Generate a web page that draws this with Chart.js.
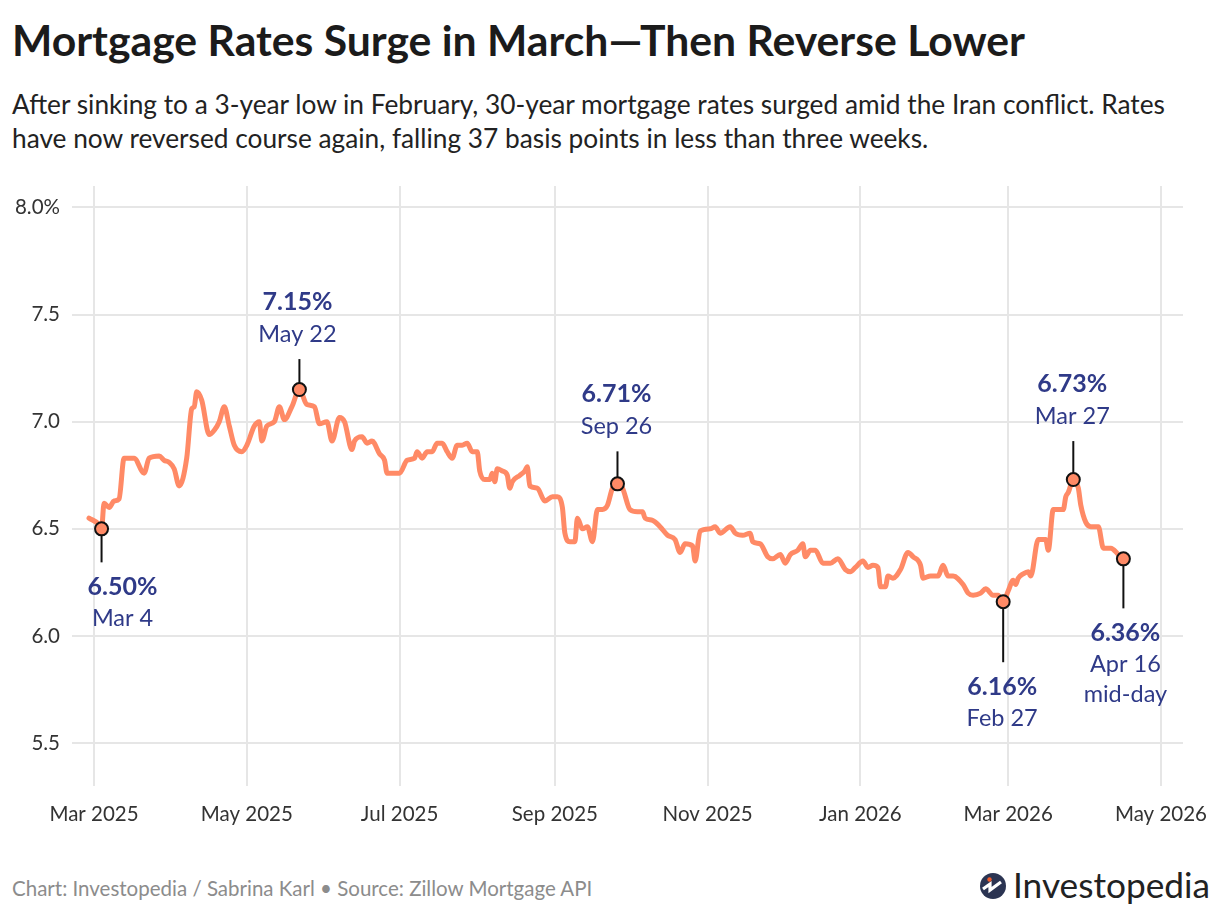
<!DOCTYPE html>
<html><head><meta charset="utf-8">
<script src="https://cdn.jsdelivr.net/npm/chart.js@4.4.1/dist/chart.umd.min.js"></script>
<style>
html,body{margin:0;padding:0;background:#fff}
body{width:1220px;height:914px;overflow:hidden;position:relative;font-family:'Lato','Noto Sans',sans-serif}
.t{position:absolute;white-space:nowrap;line-height:1}
#title{left:12px;top:19px;font-weight:700;font-size:38px;color:#1b1b1b}
#sub1,#sub2{left:12px;font-size:23px;color:#222}
#sub1{top:91px}
#sub2{top:125px}
#foot{left:12px;top:878px;font-size:18px;color:#8c8c8c}
#logotxt{left:1013px;top:867px;font-size:35px;color:#222}
#icon{position:absolute;left:979px;top:872px}
#wrap{position:absolute;left:0;top:170px;width:1220px;height:670px}
</style></head>
<body>
<div id="title" class="t">Mortgage Rates Surge in March—Then Reverse Lower</div>
<div id="sub1" class="t">After sinking to a 3-year low in February, 30-year mortgage rates surged amid the Iran conflict. Rates</div>
<div id="sub2" class="t">have now reversed course again, falling 37 basis points in less than three weeks.</div>
<div id="wrap"><canvas id="c"></canvas></div>
<div id="foot" class="t">Chart: Investopedia / Sabrina Karl • Source: Zillow Mortgage API</div>
<svg id="icon" width="28" height="28" viewBox="0 0 28 28">
  <circle cx="14" cy="14" r="13" fill="#2b3452"/>
  <path d="M4 17 L11 12 L11 18 L22 10" stroke="#fff" stroke-width="3.2" fill="none" stroke-linejoin="miter"/>
  <circle cx="10.5" cy="7.5" r="2.2" fill="#f25c2a"/>
</svg>
<div id="logotxt" class="t">Investopedia</div>
<script>
// ---- data ----
const dates = [
"2025-02-27","2025-03-03","2025-03-04","2025-03-05","2025-03-07","2025-03-09","2025-03-11","2025-03-13","2025-03-17","2025-03-21",
"2025-03-23","2025-03-27","2025-03-29","2025-03-31","2025-04-02","2025-04-04","2025-04-07","2025-04-09","2025-04-10","2025-04-11",
"2025-04-13","2025-04-16","2025-04-18","2025-04-20","2025-04-22","2025-04-24","2025-04-26","2025-04-29","2025-05-01","2025-05-04",
"2025-05-06","2025-05-07","2025-05-09","2025-05-12","2025-05-14","2025-05-16","2025-05-19","2025-05-22","2025-05-25","2025-05-28",
"2025-05-30","2025-06-02","2025-06-04","2025-06-07","2025-06-09","2025-06-12","2025-06-13","2025-06-16","2025-06-18","2025-06-20",
"2025-06-23","2025-06-25","2025-06-26","2025-07-01","2025-07-04","2025-07-07","2025-07-08","2025-07-10","2025-07-12","2025-07-14",
"2025-07-16","2025-07-18","2025-07-20","2025-07-22","2025-07-24","2025-07-26","2025-07-28","2025-07-30","2025-08-01","2025-08-02",
"2025-08-04","2025-08-06","2025-08-07","2025-08-08","2025-08-09","2025-08-11","2025-08-13","2025-08-14","2025-08-15","2025-08-18",
"2025-08-20","2025-08-21","2025-08-22","2025-08-25","2025-08-28","2025-08-31","2025-09-02","2025-09-04","2025-09-05","2025-09-07",
"2025-09-09","2025-09-10","2025-09-12","2025-09-14","2025-09-16","2025-09-18","2025-09-20","2025-09-22","2025-09-24","2025-09-26",
"2025-09-28","2025-10-01","2025-10-04","2025-10-06","2025-10-07","2025-10-10","2025-10-13","2025-10-16","2025-10-19","2025-10-21",
"2025-10-23","2025-10-26","2025-10-27","2025-10-29","2025-11-02","2025-11-04","2025-11-06","2025-11-10","2025-11-12","2025-11-15",
"2025-11-18","2025-11-19","2025-11-22","2025-11-25","2025-11-27","2025-11-30","2025-12-02","2025-12-04","2025-12-07","2025-12-09",
"2025-12-10","2025-12-12","2025-12-14","2025-12-17","2025-12-20","2025-12-23","2025-12-26","2025-12-28","2025-12-30","2026-01-02",
"2026-01-04","2026-01-06","2026-01-08","2026-01-09","2026-01-11","2026-01-12","2026-01-14","2026-01-17","2026-01-20","2026-01-22",
"2026-01-25","2026-01-26","2026-01-29","2026-02-01","2026-02-03","2026-02-05","2026-02-07","2026-02-11","2026-02-13","2026-02-15",
"2026-02-18","2026-02-20","2026-02-23","2026-02-25","2026-02-27","2026-03-01","2026-03-03","2026-03-04","2026-03-05","2026-03-07",
"2026-03-09","2026-03-10","2026-03-13","2026-03-16","2026-03-17","2026-03-19","2026-03-23","2026-03-24","2026-03-25","2026-03-27",
"2026-03-29","2026-03-30","2026-04-01","2026-04-03","2026-04-06","2026-04-08","2026-04-11","2026-04-14","2026-04-16"
];
const rates = [
6.55,6.52,6.50,6.62,6.60,6.63,6.64,6.83,6.83,6.76,
6.83,6.84,6.82,6.81,6.78,6.70,6.83,7.06,7.07,7.14,
7.10,6.94,6.96,7.00,7.07,6.98,6.89,6.86,6.89,6.98,
7.00,6.91,6.98,7.00,7.07,7.01,7.07,7.15,7.08,7.07,
6.99,7.00,6.91,7.02,7.00,6.87,6.91,6.93,6.90,6.91,
6.85,6.82,6.76,6.76,6.82,6.83,6.86,6.83,6.86,6.86,
6.90,6.90,6.86,6.83,6.89,6.89,6.90,6.86,6.86,6.77,
6.73,6.73,6.76,6.72,6.78,6.77,6.75,6.69,6.72,6.75,
6.77,6.79,6.70,6.69,6.63,6.65,6.65,6.60,6.48,6.44,
6.44,6.55,6.50,6.51,6.44,6.59,6.59,6.61,6.69,6.71,
6.69,6.59,6.58,6.58,6.55,6.54,6.51,6.47,6.45,6.39,
6.43,6.42,6.35,6.49,6.50,6.51,6.48,6.51,6.48,6.47,
6.48,6.44,6.43,6.37,6.36,6.38,6.34,6.38,6.40,6.43,
6.37,6.40,6.40,6.34,6.34,6.36,6.31,6.30,6.32,6.35,
6.32,6.33,6.32,6.23,6.23,6.28,6.27,6.31,6.39,6.37,
6.33,6.27,6.28,6.28,6.33,6.28,6.28,6.24,6.20,6.19,
6.20,6.22,6.19,6.19,6.16,6.21,6.26,6.24,6.27,6.29,
6.30,6.28,6.45,6.45,6.40,6.59,6.59,6.65,6.67,6.73,
6.69,6.61,6.53,6.51,6.51,6.41,6.41,6.38,6.36
];
const tickDates = ["2025-03-01","2025-05-01","2025-07-01","2025-09-01","2025-11-01","2026-01-01","2026-03-01","2026-05-01"];
const tickLabels = ["Mar 2025","May 2025","Jul 2025","Sep 2025","Nov 2025","Jan 2026","Mar 2026","May 2026"];
const yTicks = [5.5,6.0,6.5,7.0,7.5,8.0];
const yTickLabels = ["5.5","6.0","6.5","7.0","7.5","8.0%"];
const annDates = ["2025-03-04","2025-05-22","2025-09-26","2026-02-27","2026-03-27","2026-04-16"];
const annValues = [6.50,7.15,6.71,6.16,6.73,6.36];
const annTitles = ["6.50%","7.15%","6.71%","6.16%","6.73%","6.36%"];
const annLabels = [["Mar 4"],["May 22"],["Sep 26"],["Feb 27"],["Mar 27"],["Apr 16","mid-day"]];

// ---- layout of annotations (pixel offsets only) ----
const annDir = ["down","up","up","down","up","down"];
const annLen = [27,24,26,54,32,43];
const annDx = [21,-2,-1,-1,-1,2];

function dayIdx(s){const [y,m,d]=s.split('-').map(Number);return (Date.UTC(y,m-1,d)-Date.UTC(2025,2,1))/86400000;}

function fit(id,w){const el=document.getElementById(id);let s=parseFloat(getComputedStyle(el).fontSize);
  for(let i=0;i<3;i++){const cw=el.getBoundingClientRect().width;s=s*w/cw;el.style.fontSize=s+'px';}}
fit('title',1013);fit('sub1',1153);
document.getElementById('sub2').style.fontSize=document.getElementById('sub1').style.fontSize;
fit('foot',580);fit('logotxt',197);

const LINE='#ff8a66', NAVY='#2f3a88';
const FONT="'Lato','Noto Sans',sans-serif";

const annPlugin={id:'ann',afterDatasetsDraw(chart){
  const ctx=chart.ctx,xs=chart.scales.x,ys=chart.scales.y;
  ctx.save();
  annDates.forEach((d,i)=>{
    const px=xs.getPixelForValue(dayIdx(d)), py=ys.getPixelForValue(annValues[i]);
    const r=6.5, tx=px+annDx[i];
    ctx.strokeStyle='#111';ctx.lineWidth=2;
    ctx.beginPath();
    let end;
    if(annDir[i]==='up'){ctx.moveTo(px,py-r);end=py-r-annLen[i];ctx.lineTo(px,end);}
    else {ctx.moveTo(px,py+r);end=py+r+annLen[i];ctx.lineTo(px,end);}
    ctx.stroke();
    ctx.beginPath();ctx.arc(px,py,r,0,Math.PI*2);ctx.fillStyle=LINE;ctx.fill();ctx.stroke();
    ctx.fillStyle=NAVY;ctx.textAlign='center';ctx.textBaseline='middle';
    const lines=annLabels[i];
    if(annDir[i]==='up'){
      ctx.font="700 25px "+FONT;ctx.fillText(annTitles[i],tx,end-57);
      ctx.font="400 23.5px "+FONT;ctx.fillText(lines[0],tx,end-25);
    } else {
      ctx.font="700 25px "+FONT;ctx.fillText(annTitles[i],tx,end+25);
      ctx.font="400 23.5px "+FONT;
      lines.forEach((l,k)=>ctx.fillText(l,tx,end+56+k*30));
    }
  });
  ctx.restore();
}};

new Chart(document.getElementById('c'),{
  type:'line',
  data:{datasets:[{data:dates.map((d,i)=>({x:dayIdx(d),y:rates[i]})),
    borderColor:LINE,borderWidth:5,pointRadius:0,cubicInterpolationMode:'monotone',
    borderCapStyle:'round',borderJoinStyle:'round',fill:false}]},
  options:{
    responsive:true,maintainAspectRatio:false,animation:false,
    layout:{padding:{top:16,right:37,left:0,bottom:0}},
    plugins:{legend:{display:false},tooltip:{enabled:false}},
    scales:{
      x:{type:'linear',min:-8.8,max:434.8,
        afterBuildTicks(s){s.ticks=tickDates.map(d=>({value:dayIdx(d)}));},
        afterFit(s){s.height=54;s.paddingLeft=0;s.paddingRight=0;},
        ticks:{callback:(v,i)=>tickLabels[i],color:'#333',font:{family:FONT,size:20.5},padding:16,maxRotation:0,autoSkip:false},
        grid:{color:'#e6e6e6',lineWidth:2,drawTicks:false},border:{display:false}},
      y:{min:5.3,max:8.1,
        afterBuildTicks(s){s.ticks=yTicks.map(v=>({value:v}));},
        afterFit(s){s.width=72;s.paddingTop=0;s.paddingBottom=0;},
        ticks:{callback:(v,i)=>yTickLabels[i],color:'#333',font:{family:FONT,size:20.5},padding:12},
        grid:{color:'#e6e6e6',lineWidth:2,drawTicks:false},border:{display:false}}
    }
  },
  plugins:[annPlugin]
});
</script>
</body></html>
